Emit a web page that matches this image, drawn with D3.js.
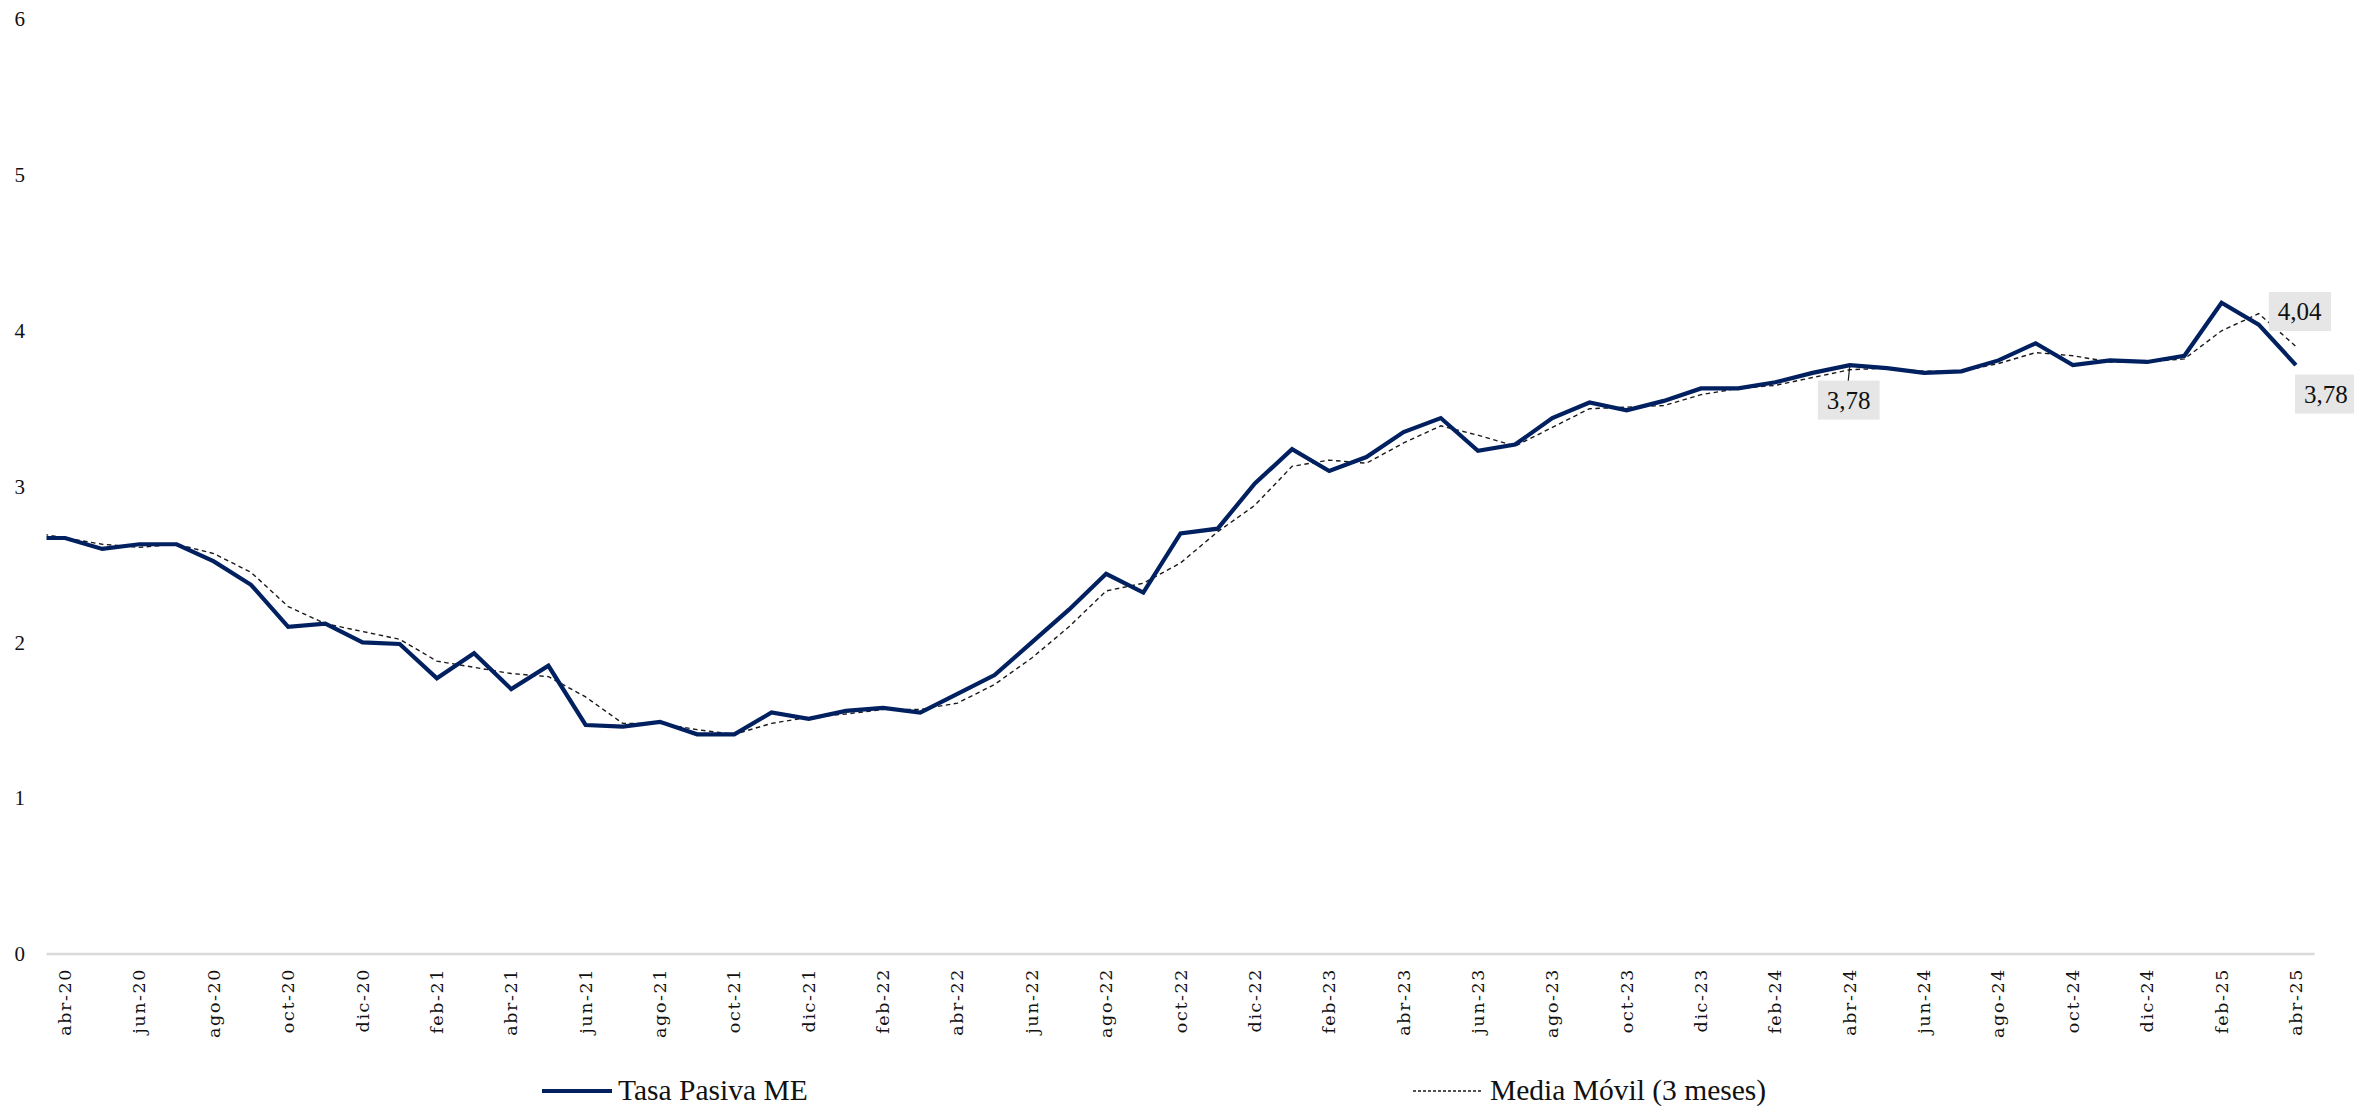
<!DOCTYPE html>
<html>
<head>
<meta charset="utf-8">
<script src="https://cdn.jsdelivr.net/npm/d3@7"></script>
<style>
  html, body { margin: 0; padding: 0; background: #fff; }
  svg { display: block; }
</style>
</head>
<body>
<svg id="chart" width="2354" height="1107"></svg>
<script>
// ---- DATA ----
// months: "mar-20" precedes the visible axis (its segment is clipped at the plot's left edge)
const months = [
  "mar-20","abr-20","may-20","jun-20","jul-20","ago-20","sep-20","oct-20","nov-20","dic-20",
  "ene-21","feb-21","mar-21","abr-21","may-21","jun-21","jul-21","ago-21","sep-21","oct-21","nov-21","dic-21",
  "ene-22","feb-22","mar-22","abr-22","may-22","jun-22","jul-22","ago-22","sep-22","oct-22","nov-22","dic-22",
  "ene-23","feb-23","mar-23","abr-23","may-23","jun-23","jul-23","ago-23","sep-23","oct-23","nov-23","dic-23",
  "ene-24","feb-24","mar-24","abr-24","may-24","jun-24","jul-24","ago-24","sep-24","oct-24","nov-24","dic-24",
  "ene-25","feb-25","mar-25","abr-25"
];
const tickLabels = [
  "abr-20","jun-20","ago-20","oct-20","dic-20","feb-21","abr-21","jun-21","ago-21","oct-21","dic-21",
  "feb-22","abr-22","jun-22","ago-22","oct-22","dic-22","feb-23","abr-23","jun-23","ago-23","oct-23","dic-23",
  "feb-24","abr-24","jun-24","ago-24","oct-24","dic-24","feb-25","abr-25"
];
const tasaPasiva = [
  2.67,
  2.67,2.60,2.63,2.63,2.52,2.37,2.10,2.12,2.00,
  1.99,1.77,1.93,1.70,1.85,1.47,1.46,1.49,1.41,1.41,1.55,1.51,
  1.56,1.58,1.55,1.67,1.79,2.00,2.21,2.44,2.32,2.70,2.73,3.02,
  3.24,3.10,3.19,3.35,3.44,3.23,3.27,3.44,3.54,3.49,3.55,3.63,
  3.63,3.67,3.73,3.78,3.76,3.73,3.74,3.81,3.92,3.78,3.81,3.80,
  3.84,4.18,4.04,3.78
];
const mediaMovil = [
  2.71,
  2.67,2.63,2.61,2.63,2.57,2.45,2.23,2.12,2.07,
  2.02,1.88,1.84,1.80,1.78,1.65,1.48,1.48,1.44,1.41,1.48,1.52,
  1.54,1.57,1.57,1.61,1.73,1.90,2.10,2.33,2.38,2.51,2.71,2.88,
  3.13,3.17,3.15,3.28,3.39,3.33,3.26,3.38,3.50,3.51,3.52,3.59,
  3.63,3.65,3.70,3.75,3.76,3.74,3.74,3.79,3.86,3.84,3.80,3.80,
  3.82,4.00,4.11,3.90
];
const yTicks = [0,1,2,3,4,5,6];
const seriesNames = ["Tasa Pasiva ME", "Media Móvil (3 meses)"];
// data labels on the Tasa Pasiva ME series
const labelMonths = ["abr-24","mar-25","abr-25"];
const labelTexts  = ["3,78","4,04","3,78"];

// ---- LAYOUT ----
const W = 2354, H = 1107;
const plotLeft = 46.5, plotRight = 2314.5, plotBottom = 954;
const serif = "'Liberation Serif', 'Times New Roman', serif";
const NAVY = "#002060";
const INK = "#111";

const svg = d3.select("#chart");
svg.append("rect").attr("width", W).attr("height", H).attr("fill", "#fff");

const bandW = (plotRight - plotLeft) / (months.length - 1);
const x = d3.scaleBand().domain(months).range([plotLeft - bandW, plotRight]).padding(0);
const cx = m => x(m) + x.bandwidth() / 2;
const y = d3.scaleLinear().domain([0, 6]).range([plotBottom, plotBottom - 6 * 155.8]);

svg.append("defs").append("clipPath").attr("id", "plotclip")
  .append("rect").attr("x", plotLeft).attr("y", 0).attr("width", plotRight - plotLeft).attr("height", H);

// Y axis (labels only)
const yAxis = d3.axisLeft(y).tickValues(yTicks).tickSize(0).tickPadding(0).tickFormat(d3.format("d"));
const gy = svg.append("g").attr("transform", "translate(25,0)").call(yAxis);
gy.select(".domain").remove();
gy.selectAll("text").attr("font-family", serif).attr("font-size", 21).attr("fill", INK);

// baseline gridline at 0
svg.append("line")
  .attr("x1", plotLeft).attr("x2", plotRight)
  .attr("y1", y(0)).attr("y2", y(0))
  .attr("stroke", "#d9d9d9").attr("stroke-width", 2.5);

// X axis labels
const xAxis = d3.axisBottom(x).tickValues(tickLabels).tickSize(0).tickPadding(0);
const gx = svg.append("g").attr("transform", `translate(0,${y(0)})`).call(xAxis);
gx.select(".domain").remove();
gx.selectAll("text")
  .attr("font-family", "'DejaVu Serif', serif")
  .attr("font-size", 17.5)
  .attr("letter-spacing", "1.6px")
  .attr("fill", INK)
  .attr("text-anchor", "end")
  .attr("dy", null)
  .attr("dominant-baseline", "central")
  .attr("transform", "translate(0,14) rotate(-90)")
  .attr("x", 0).attr("y", 0);

// Lines
const plotG = svg.append("g").attr("clip-path", "url(#plotclip)");
const lineT = d3.line().x((d, i) => cx(months[i])).y(d => y(d));
plotG.append("path").datum(mediaMovil)
  .attr("d", lineT).attr("fill", "none")
  .attr("stroke", "#1a1a1a").attr("stroke-width", 1.4)
  .attr("stroke-dasharray", "4.5,3.5");
plotG.append("path").datum(tasaPasiva)
  .attr("d", lineT).attr("fill", "none")
  .attr("stroke", NAVY).attr("stroke-width", 4.2)
  .attr("stroke-linejoin", "miter");

// Data labels
const labelOffsets = [[-1, 35], [41, -13], [30, 29]];
labelMonths.forEach((m, i) => {
  const idx = months.indexOf(m);
  const px = cx(m), py = y(tasaPasiva[idx]);
  const lx = px + labelOffsets[i][0], ly = py + labelOffsets[i][1];
  const g = svg.append("g");
  const rect = g.append("rect").attr("fill", "#e6e6e6");
  const t = g.append("text")
    .attr("x", lx).attr("y", ly)
    .attr("text-anchor", "middle").attr("dominant-baseline", "central")
    .attr("font-family", serif).attr("font-size", 25).attr("fill", INK)
    .text(labelTexts[i]);
  const bb = t.node().getBBox();
  rect.attr("x", bb.x - 9).attr("y", ly - 19.5).attr("width", bb.width + 18).attr("height", 39);
  if (i === 0) {
    svg.append("line").attr("x1", px).attr("y1", py + 1).attr("x2", px - 1.5).attr("y2", ly - 19.5)
      .attr("stroke", "#1a1a1a").attr("stroke-width", 1.2);
  }
});

// Legend
const legY = 1091, legBase = 1100;
svg.append("line").attr("x1", 542).attr("x2", 612).attr("y1", legY).attr("y2", legY)
  .attr("stroke", NAVY).attr("stroke-width", 4.2);
svg.append("text").attr("x", 618).attr("y", legBase)
  .attr("font-family", serif).attr("font-size", 29.5).attr("fill", INK).text(seriesNames[0]);
svg.append("line").attr("x1", 1413).attr("x2", 1482).attr("y1", legY).attr("y2", legY)
  .attr("stroke", "#1a1a1a").attr("stroke-width", 1.3).attr("stroke-dasharray", "3,2");
svg.append("text").attr("x", 1490).attr("y", legBase)
  .attr("font-family", serif).attr("font-size", 29.5).attr("fill", INK).text(seriesNames[1]);
</script>
</body>
</html>
